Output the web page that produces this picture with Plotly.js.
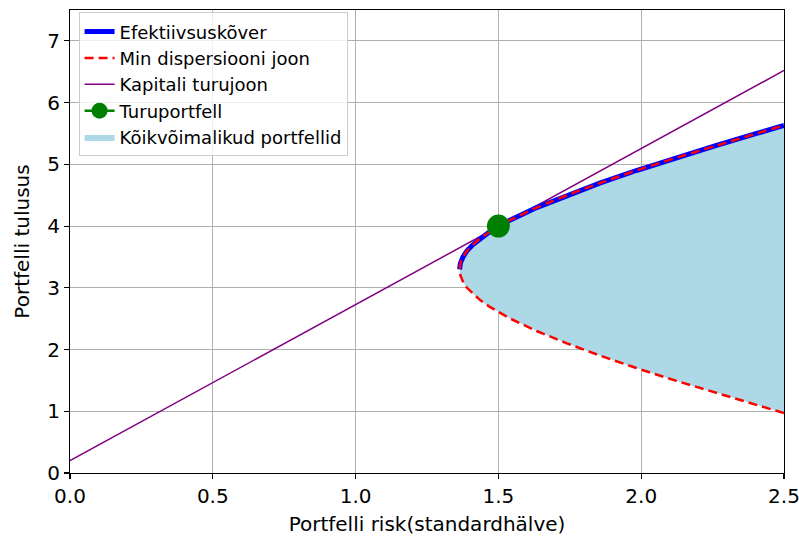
<!DOCTYPE html>
<html>
<head>
<meta charset="utf-8">
<script src="https://cdn.plot.ly/plotly-3.0.1.min.js"></script>
<style>
  html, body { margin: 0; padding: 0; background: #fff; }
  #chart { width: 799px; height: 538px; }
</style>
</head>
<body>
<div id="chart"></div>
<script>
// Efficient (upper) branch of the minimum-variance curve
const effRisk   = [1.364, 1.367, 1.376, 1.390, 1.411, 1.436, 1.467, 1.502, 1.542, 1.634, 1.740, 1.857, 1.983, 2.118, 2.258, 2.404, 2.500];
const effReturn = [3.30, 3.40, 3.50, 3.60, 3.70, 3.80, 3.90, 4.00, 4.10, 4.30, 4.50, 4.70, 4.90, 5.10, 5.30, 5.50, 5.63];

// Lower branch of the minimum-variance curve (from the vertex downwards)
const lowRisk   = [1.364, 1.367, 1.376, 1.390, 1.411, 1.436, 1.467, 1.502, 1.542, 1.634, 1.740, 1.857, 1.983, 2.118, 2.258, 2.404, 2.500];
const lowReturn = [3.30, 3.20, 3.10, 3.00, 2.90, 2.80, 2.70, 2.60, 2.50, 2.30, 2.10, 1.90, 1.70, 1.50, 1.30, 1.10, 0.97];

// Capital market line endpoints
const cmlRisk   = [0.0, 2.5];
const cmlReturn = [0.20, 6.52];

// Market (tangency) portfolio
const mktRisk   = [1.5];
const mktReturn = [4.0];

// Full minimum-variance curve: lower branch reversed, then upper branch
const mvRisk   = lowRisk.slice().reverse().concat(effRisk.slice(1));
const mvReturn = lowReturn.slice().reverse().concat(effReturn.slice(1));

const FONT = 'DejaVu Sans, sans-serif';
const FS = 20;      // axis ticks and titles
const FS_LEG = 18;  // legend entries

const traces = [
  {
    x: mvRisk, y: mvReturn, mode: 'lines', fill: 'toself',
    fillcolor: '#add8e6', line: {width: 0, color: '#add8e6'},
    name: 'Kõikvõimalikud portfellid', legendrank: 5,
    hoverinfo: 'skip'
  },
  {
    x: cmlRisk, y: cmlReturn, mode: 'lines',
    line: {color: '#800080', width: 1.5},
    name: 'Kapitali turujoon', legendrank: 3
  },
  {
    x: effRisk, y: effReturn, mode: 'lines',
    line: {color: '#0000ff', width: 5},
    name: 'Efektiivsuskõver', legendrank: 1
  },
  {
    x: mvRisk, y: mvReturn, mode: 'lines',
    line: {color: '#ff0000', width: 2.5, dash: '9px,5px'},
    name: 'Min dispersiooni joon', legendrank: 2
  },
  {
    x: mktRisk, y: mktReturn, mode: 'lines+markers',
    line: {color: '#008000', width: 2.5},
    marker: {color: '#008000', size: 23},
    name: 'Turuportfell', legendrank: 4
  }
];

const axisCommon = {
  showline: true, linecolor: '#000', linewidth: 1.1, mirror: true,
  showgrid: true, gridcolor: '#b0b0b0', gridwidth: 1,
  zeroline: false,
  ticks: 'outside', ticklen: 5, tickwidth: 1.1, tickcolor: '#000',
  ticklabeloverflow: 'allow',
  tickfont: {family: FONT, size: FS, color: '#000'}
};

const layout = {
  width: 799, height: 538,
  margin: {l: 70, r: 15, t: 10, b: 65},
  paper_bgcolor: '#fff', plot_bgcolor: '#fff',
  showlegend: true,
  xaxis: Object.assign({}, axisCommon, {
    range: [0, 2.5], tickvals: [0, 0.5, 1, 1.5, 2, 2.5],
    ticktext: ['0.0', '0.5', '1.0', '1.5', '2.0', '2.5'],
    title: {text: 'Portfelli risk(standardhälve)', font: {family: FONT, size: FS, color: '#000'}, standoff: 9}
  }),
  yaxis: Object.assign({}, axisCommon, {
    range: [0, 7.5], tickvals: [0, 1, 2, 3, 4, 5, 6, 7],
    title: {text: 'Portfelli tulusus', font: {family: FONT, size: FS, color: '#000'}, standoff: 12}
  }),
  legend: {
    x: 0.012, y: 0.995, xanchor: 'left', yanchor: 'top',
    bgcolor: 'rgba(255,255,255,0.8)', bordercolor: '#cccccc', borderwidth: 1,
    font: {family: FONT, size: FS_LEG, color: '#000'},
    traceorder: 'normal'
  }
};

Plotly.newPlot('chart', traces, layout, {displayModeBar: false, staticPlot: true});
</script>
</body>
</html>
